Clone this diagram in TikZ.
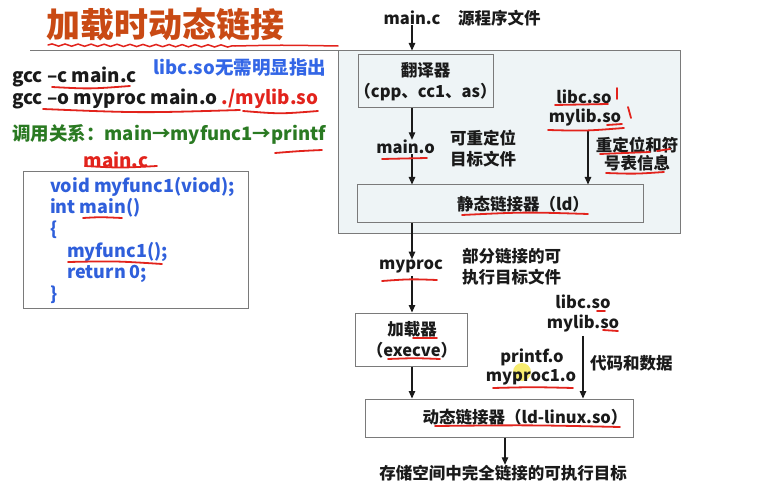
\documentclass[tikz,border=0pt]{standalone}
\usepackage{fontspec}
\setmainfont{Noto Sans CJK SC}
\usetikzlibrary{arrows.meta,decorations.pathmorphing}
\definecolor{titlecol}{HTML}{C94A14}
\definecolor{notecol}{HTML}{3366E6}
\definecolor{codecol}{HTML}{2F5FDB}
\definecolor{callcol}{HTML}{2A7A22}
\definecolor{penred}{HTML}{E2231C}
\definecolor{ink}{HTML}{1A1A1A}
\definecolor{framegray}{HTML}{7A7A7A}
\definecolor{panelfill}{HTML}{EEF4F6}
\definecolor{pointerhl}{HTML}{F5E640}
\tikzset{
  rtxt/.style={font=\fontsize{16.5}{21}\selectfont\bfseries, text=ink, inner sep=0pt, align=center},
  ltxt/.style={font=\fontsize{18.8}{22}\selectfont\bfseries, text=ink, inner sep=0pt, anchor=west},
  codetxt/.style={font=\fontsize{18}{22}\selectfont\bfseries, text=codecol, inner sep=0pt, anchor=west},
  boxshape/.style={draw=framegray, line width=1pt, inner sep=0pt},
  arr/.style={-{Triangle[length=7.5pt,width=6.5pt]}, line width=1.1pt, draw=ink},
  pen/.style={draw=penred, line width=1.8pt, line cap=round},
}
\begin{document}
\begin{tikzpicture}[x=1pt,y=-1pt]
\useasboundingbox (0,0) rectangle (776,494);
\fill[white] (0,0) rectangle (776,494);

% ---------- left column ----------
\node[font=\fontsize{34}{36}\selectfont\bfseries, text=titlecol, inner sep=0pt, anchor=west] (title) at (46,25) {加载时动态链接};
\coordinate (ruleL) at (30,50);
\coordinate (ruleR) at (338,50);
\draw[framegray, line width=0.8pt] (ruleL) -- (ruleR);

\node[ltxt] (gcc1) at (12,77) {gcc –c main.c};
\node[ltxt, text=notecol, font=\fontsize{18.5}{22}\selectfont\bfseries] (note) at (153,68) {libc.so无需明显指出};
\node[ltxt] (gcc2) at (12,99) {gcc –o myproc main.o \textcolor{penred}{./mylib.so}};
\node[ltxt, text=callcol, font=\fontsize{18.5}{22}\selectfont\bfseries] (call) at (12,135) {调用关系：main→myfunc1→printf};
\node[ltxt, text=penred, anchor=center] (srcname) at (116,160) {main.c};

\node[boxshape, minimum width=225pt, minimum height=136pt] (codebox) at (135.5,240) {};
\node[codetxt] (c1) at (50,187) {void myfunc1(viod);};
\node[codetxt] (c2) at (50,208) {int main()};
\node[codetxt] (c3) at (50,230) {\{};
\node[codetxt] (c4) at (67,252) {myfunc1();};
\node[codetxt] (c5) at (67,274) {return 0;};
\node[codetxt] (c6) at (50,295) {\}};

% ---------- right column: static part ----------
\node[boxshape, fill=panelfill, minimum width=342pt, minimum height=183pt] (panel) at (509,142.5) {};
\coordinate (col) at (412,0);

\node[rtxt] (mainc) at (412,18) {main.c};
\node[rtxt, anchor=west] (srcdesc) at (458,18) {源程序文件};
\node[boxshape, fill=panelfill, minimum width=135pt, minimum height=53pt] (trans) at (425.5,81.5) {};
\node[rtxt] (transl) at (425.5,82) {翻译器\\（cpp、cc1、as）};
\node[rtxt] (maino) at (405.5,147) {main.o};
\node[rtxt, anchor=west] (mainodesc) at (450,148.5) {可重定位\\目标文件};
\node[rtxt] (libca) at (584,97) {libc.so};
\node[rtxt] (myliba) at (585,117) {mylib.so};
\node[rtxt, font=\fontsize{16.5}{18}\selectfont\bfseries] (relocdesc) at (637,154) {重定位和符\\号表信息};
\node[boxshape, fill=panelfill, minimum width=286pt, minimum height=38pt] (stat) at (500,204) {};
\node[rtxt] (statl) at (523,204) {静态链接器（ld）};

\draw[arr] (mainc.south -| col) -- (panel.north -| col);
\draw[arr] (trans.south -| col) -- (maino.north -| col);
\draw[arr] (maino.south -| col) -- (stat.north -| col);
\coordinate (sharecol) at (588,0);
\draw[arr] (myliba.south -| sharecol) ++(0,4) -- (stat.north -| sharecol);

% ---------- right column: load-time part ----------
\node[rtxt] (myproc) at (411,266) {myproc};
\node[rtxt, anchor=west] (myprocdesc) at (462,267) {部分链接的可\\执行目标文件};
\node[boxshape, fill=white, minimum width=112pt, minimum height=53pt] (loader) at (411,339.5) {};
\node[rtxt] (loaderl) at (412,340) {加载器\\（execve）};
\node[rtxt] (libcb) at (583,302) {libc.so};
\node[rtxt] (mylibb) at (583,323) {mylib.so};
\node[rtxt, anchor=west] (datadesc) at (590,363) {代码和数据};
\node[rtxt] (printfo) at (532,357) {printf.o};
\fill[pointerhl, opacity=0.75] (522,372) circle (9pt);
\node[rtxt] (myproco) at (531,377) {myproc1.o};
\node[boxshape, fill=white, minimum width=268pt, minimum height=38pt] (dyn) at (499,418) {};
\node[rtxt] (dynl) at (525,417) {动态链接器（ld-linux.so）};
\node[rtxt] (result) at (503,473) {存储空间中完全链接的可执行目标};

\draw[arr] (stat.south -| col) -- (myproc.north -| col);
\draw[arr] (myproc.south -| col) ++(0,3) -- (loader.north -| col);
\draw[arr] (loader.south -| col) -- (dyn.north -| col);
\coordinate (dyncol) at (583,0);
\draw[arr] (mylibb.south -| dyncol) ++(0,4) -- (dyn.north -| dyncol);
\coordinate (outcol) at (505,0);
\draw[arr] (dyn.south -| outcol) -- (result.north -| outcol);

% ---------- red pen marks ----------
\draw[pen, line width=1.5pt, decorate, decoration={snake, amplitude=1.1pt, segment length=13pt}] (48,45) -- (235,46);
\draw[pen, line width=1.5pt] (235,46) .. controls (280,45) .. (338,46);
\draw[pen] (52,87) .. controls (90,89) .. (130,86);
\draw[pen] (43,109) .. controls (140,113) .. (240,110);
\draw[pen] (243,111) .. controls (280,114) .. (318,111);
\draw[pen] (275,153) .. controls (300,151) .. (322,150);
\draw[pen] (85,166) .. controls (120,168) .. (157,166);
\draw[pen] (83,218) .. controls (100,217) .. (122,218);
\draw[pen] (68,262) .. controls (115,261) .. (162,264);
\draw[pen] (555,105) -- (608,104);
\draw[pen] (617,88) -- (617,99);
\draw[pen] (628,107) -- (631,118);
\draw[pen] (607,125) -- (622,124);
\draw[pen] (548,130) .. controls (585,131) .. (624,128);
\draw[pen] (382,159) -- (427,158);
\draw[pen] (600,154) .. controls (625,153) .. (650,152);
\draw[pen] (657,151) -- (670,149);
\draw[pen] (606,173) .. controls (635,174) .. (664,172);
\draw[pen] (462,215) .. controls (525,212) .. (588,214);
\draw[pen] (382,281) .. controls (410,279) .. (437,280);
\draw[pen] (413,338) -- (437,338);
\draw[pen] (388,359) .. controls (415,358) .. (440,359);
\draw[pen] (597,311) -- (605,311);
\draw[pen] (603,330) -- (618,331);
\draw[pen] (493,388) .. controls (533,387) .. (573,388);
\draw[pen] (435,426) .. controls (530,425) .. (620,427);
\end{tikzpicture}
\end{document}
